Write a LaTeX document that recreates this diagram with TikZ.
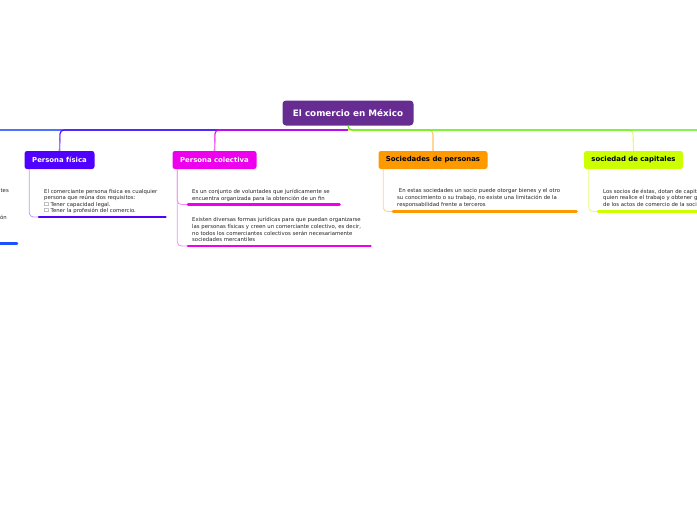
\documentclass[tikz,border=0pt]{standalone}
\usepackage{fontspec}
\setmainfont{DejaVu Sans}
\definecolor{cmain}{HTML}{672C91}
\definecolor{cpf}{HTML}{5000FF}
\definecolor{cpc}{HTML}{EE00EE}
\definecolor{cso}{HTML}{FF9900}
\definecolor{cca}{HTML}{CCFF00}
\definecolor{cbl}{HTML}{1E50FF}
\definecolor{cgr}{HTML}{44EE00}
\definecolor{ctx}{HTML}{222222}
\begin{document}
\begin{tikzpicture}[x=1pt,y=-1pt,
  mainbox/.style={rounded corners=3.5pt, fill=cmain, text=white, font=\bfseries\fontsize{8.8}{10}\selectfont, minimum width=131pt, minimum height=25pt, inner sep=0pt},
  topic/.style={rounded corners=2.5pt, minimum height=18pt, inner sep=0pt, font=\bfseries\fontsize{6.9}{8}\selectfont},
  body/.style={anchor=north west, align=left, inner sep=0pt, text=ctx, font=\fontsize{5.35}{6.6}\selectfont},
  bodyr/.style={anchor=north east, align=right, inner sep=0pt, text=ctx, font=\fontsize{5.35}{6.6}\selectfont},
  link/.style={line width=1.1pt, rounded corners=4pt},
  thinlink/.style={line width=0.8pt, rounded corners=4pt},
  bar/.style={line width=2.6pt, line cap=round}]
\useasboundingbox (0,0) rectangle (697,520);
\clip (0,0) rectangle (697,520);

% nodes
\node[mainbox] (root) at (348,113) {El comercio en México};
\node[topic, fill=cpf, text=white, minimum width=70pt] (pf) at (59.5,160) {Persona física};
\node[topic, fill=cpc, text=white, minimum width=84pt] (pc) at (214.5,160) {Persona colectiva};
\node[topic, fill=cso, text=black, minimum width=109pt] (so) at (433,160) {Sociedades de personas};
\node[topic, fill=cca, text=black, minimum width=99pt] (ca) at (633.5,160) {sociedad de capitales};

\coordinate (hub) at (348,130);
\coordinate (leftend) at (0,130);
\coordinate (rightend) at (697,130);

% main connectors
\draw[link, cbl!80!white] (hub) -- (leftend);
\draw[link, cpf] (hub) -- (60,130) -- (pf.north);
\draw[link, cpf!55!white] (60,134) -- (pf.north);
\draw[link, cpc] (hub) -- (215,130) -- (pc.north);
\draw[link, cpc!55!white] (215,134) -- (pc.north);
\draw[link, cso!60!white] (hub) -- (433,130) -- (so.north);
\draw[link, cca!60!white] (hub) -- (633,130) -- (ca.north);
\draw[link, cgr] (root.south) -- (hub) -- (rightend);

% texts
\node[body] (t1) at (44,188.6) {El comerciante persona física es cualquier\\persona que reúna dos requisitos:\\☐ Tener capacidad legal.\\☐ Tener la profesión del comercio.};
\node[body] (t2) at (192,189.4) {Es un conjunto de voluntades que jurídicamente se\\encuentra organizada para la obtención de un fin};
\node[body] (t3) at (192,217.4) {Existen diversas formas jurídicas para que puedan organizarse\\las personas físicas y creen un comerciante colectivo, es decir,\\no todos los comerciantes colectivos serán necesariamente\\sociedades mercantiles};
\node[body] (t4) at (397,188.6) {\ En estas sociedades un socio puede otorgar bienes y el otro\\su conocimiento o su trabajo, no existe una limitación de la\\responsabilidad frente a terceros};
\node[body] (t5) at (603,188.6) {Los socios de éstas, dotan de capital a la sociedad\\quien realice el trabajo y obtener ganancias\\de los actos de comercio de la sociedad};
\node[bodyr] (l1) at (9,188.6) {comerciantes};
\node[bodyr] (l2) at (7,214.6) {obligación};

% child connectors and bars
\coordinate (b1s) at (39,217); \coordinate (b1e) at (165.5,217);
\coordinate (b2s) at (188,204.5); \coordinate (b2e) at (339.5,204.5);
\coordinate (b3s) at (188,246); \coordinate (b3e) at (370.5,246);
\coordinate (b4s) at (393,211.5); \coordinate (b4e) at (576.5,211.5);
\coordinate (b5s) at (598,211.5); \coordinate (b5e) at (700,211.5);
\coordinate (b6s) at (-5,243.5); \coordinate (b6e) at (17,243.5);

\draw[thinlink, cpf!40!white] ([xshift=5pt]pf.south west) |- (b1s);
\draw[thinlink, cpc!45!white] ([xshift=5pt]pc.south west) |- (b2s);
\draw[thinlink, cpc!45!white] ([xshift=5pt]pc.south west) |- (b3s);
\draw[thinlink, cso!45!white] ([xshift=5pt]so.south west) |- (b4s);
\draw[thinlink, cca!55!white] ([xshift=5pt]ca.south west) |- (b5s);

\draw[bar, cpf] (b1s) -- (b1e);
\draw[bar, cpc] (b2s) -- (b2e);
\draw[bar, cpc] (b3s) -- (b3e);
\draw[bar, cso] (b4s) -- (b4e);
\draw[bar, cca] (b5s) -- (b5e);
\draw[bar, cbl] (b6s) -- (b6e);
\end{tikzpicture}
\end{document}
